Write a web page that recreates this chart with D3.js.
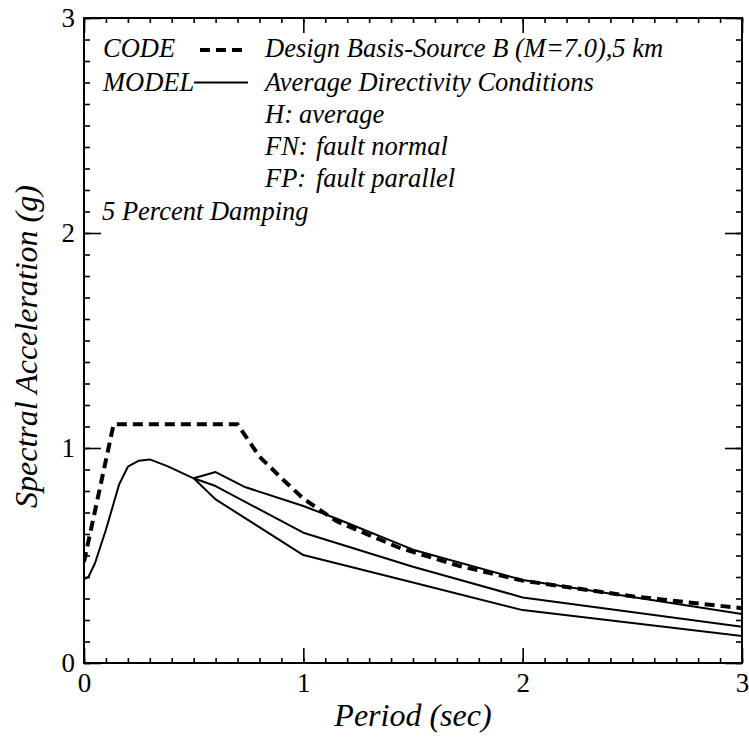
<!DOCTYPE html>
<html><head><meta charset="utf-8">
<script src="https://cdn.jsdelivr.net/npm/d3@7/dist/d3.min.js"></script>
</head>
<body style="margin:0;background:#fff"><svg id="c" width="749" height="749" style="display:block"></svg>
<script>
// ---- data ----
const codePeriod = [0, 0.135, 0.70, 0.80, 0.90, 1.00, 1.15, 1.44, 1.71, 2.00, 2.50, 3.00];
const codeSa     = [0.47, 1.11, 1.11, 0.96, 0.86, 0.765, 0.66, 0.535, 0.452, 0.383, 0.31, 0.255];

const sharedPeriod = [0, 0.02, 0.05, 0.10, 0.16, 0.20, 0.25, 0.30, 0.38, 0.50];
const sharedSa     = [0.39, 0.40, 0.464, 0.62, 0.83, 0.913, 0.941, 0.947, 0.916, 0.859];

const fnPeriod = [0.50, 0.60, 0.73, 1.00, 1.15, 1.50, 2.00, 3.00];
const fnSa     = [0.859, 0.888, 0.82, 0.73, 0.672, 0.527, 0.386, 0.228];

const hPeriod  = [0.50, 0.60, 1.00, 1.50, 2.00, 3.00];
const hSa      = [0.859, 0.823, 0.606, 0.448, 0.305, 0.169];

const fpPeriod = [0.50, 0.60, 1.00, 1.50, 2.00, 3.00];
const fpSa     = [0.859, 0.761, 0.502, 0.374, 0.246, 0.126];

const majorTicks = [0, 1, 2, 3];
const minorTicks = d3.range(0, 30.5).map(d => d / 10);

const legendLeft  = ["CODE", "MODEL"];
const legendRight = ["Design Basis-Source B (M=7.0),5 km", "Average Directivity Conditions"];
const defKeys  = ["H:", "FN:", "FP:"];
const defTexts = ["average", "fault normal", "fault parallel"];
const noteText = "5 Percent Damping";
const xTitle = "Period (sec)";
const yTitle = "Spectral Acceleration (g)";

// ---- layout ----
const FONT = '"Liberation Serif"';
const svg = d3.select("#c");
const L = 84, R = 742, T = 18, B = 663;
const x = d3.scaleLinear().domain([0, 3]).range([L, R]);
const y = d3.scaleLinear().domain([0, 3]).range([B, T]);

const zip = (a, b) => a.map((v, i) => [v, b[i]]);
const line = d3.line().x(d => x(d[0])).y(d => y(d[1]));

svg.append("clipPath").attr("id", "pc").append("rect")
  .attr("x", L).attr("y", T).attr("width", R - L).attr("height", B - T);
const g = svg.append("g").attr("clip-path", "url(#pc)");

// model curves
[ zip(fnPeriod, fnSa), zip(hPeriod, hSa), zip(fpPeriod, fpSa), zip(sharedPeriod, sharedSa) ].forEach(c => {
  g.append("path").attr("d", line(c)).attr("fill", "none")
    .attr("stroke", "#000").attr("stroke-width", 2).attr("stroke-linejoin", "round");
});

// code curve
g.append("path").attr("d", line(zip(codePeriod, codeSa))).attr("fill", "none")
  .attr("stroke", "#000").attr("stroke-width", 4).attr("stroke-dasharray", "10,6");

// axes
function styleAxis(sel) {
  sel.attr("font-family", null);
  sel.select(".domain").remove();
  sel.selectAll("line").attr("stroke", "#000").attr("stroke-width", 1.6);
  sel.selectAll("text").style("font-family", FONT).style("font-size", "27px").attr("fill", "#000");
}
const noLab = () => "";
svg.append("g").attr("transform", `translate(0,${B})`)
  .call(d3.axisBottom(x).tickValues(minorTicks).tickSize(-5).tickFormat(noLab)).call(styleAxis);
svg.append("g").attr("transform", `translate(0,${B})`)
  .call(d3.axisBottom(x).tickValues(majorTicks).tickSize(-15).tickPadding(10).tickFormat(d3.format("d"))).call(styleAxis);
svg.append("g").attr("transform", `translate(0,${T})`)
  .call(d3.axisTop(x).tickValues(minorTicks).tickSize(-5).tickFormat(noLab)).call(styleAxis);
svg.append("g").attr("transform", `translate(0,${T})`)
  .call(d3.axisTop(x).tickValues(majorTicks).tickSize(-15).tickFormat(noLab)).call(styleAxis);
svg.append("g").attr("transform", `translate(${L},0)`)
  .call(d3.axisLeft(y).tickValues(minorTicks).tickSize(-6).tickFormat(noLab)).call(styleAxis);
svg.append("g").attr("transform", `translate(${L},0)`)
  .call(d3.axisLeft(y).tickValues(majorTicks).tickSize(-17).tickPadding(9).tickFormat(d3.format("d"))).call(styleAxis);
svg.append("g").attr("transform", `translate(${R},0)`)
  .call(d3.axisRight(y).tickValues(minorTicks).tickSize(-6).tickFormat(noLab)).call(styleAxis);
svg.append("g").attr("transform", `translate(${R},0)`)
  .call(d3.axisRight(y).tickValues(majorTicks).tickSize(-17).tickFormat(noLab)).call(styleAxis);

// frame
svg.append("rect").attr("x", L).attr("y", T).attr("width", R - L).attr("height", B - T)
  .attr("fill", "none").attr("stroke", "#000").attr("stroke-width", 2);

function txt(parent, xx, yy, s, size) {
  return parent.append("text").attr("x", xx).attr("y", yy).text(s)
    .style("font-family", FONT).style("font-style", "italic").style("font-size", size + "px").attr("fill", "#000");
}

// titles
txt(svg, (L + R) / 2, 726, xTitle, 32).attr("text-anchor", "middle");
svg.append("text").attr("transform", `translate(37,${(T + B) / 2 + 6}) rotate(-90)`)
  .attr("text-anchor", "middle").style("font-family", FONT).style("font-size", "32px")
  .style("font-style", "italic").attr("fill", "#000").text(yTitle);

// legend
const FS = 26.5;
const rowY = [57, 90.5];
txt(svg, 103, rowY[0], legendLeft[0], FS);
svg.append("line").attr("x1", 200).attr("x2", 243).attr("y1", rowY[0] - 7).attr("y2", rowY[0] - 7)
  .attr("stroke", "#000").attr("stroke-width", 4).attr("stroke-dasharray", "10,6");
txt(svg, 265, rowY[0], legendRight[0], FS);
txt(svg, 103, rowY[1], legendLeft[1], FS);
svg.append("line").attr("x1", 194).attr("x2", 248).attr("y1", rowY[1] - 8).attr("y2", rowY[1] - 8)
  .attr("stroke", "#000").attr("stroke-width", 2);
txt(svg, 265, rowY[1], legendRight[1], FS);
const defY = [123, 155, 187];
const defX = [299, 316, 316];
defKeys.forEach((k, i) => {
  txt(svg, 265, defY[i], k, FS);
  txt(svg, defX[i], defY[i], defTexts[i], FS);
});
txt(svg, 102, 220, noteText, FS);
</script></body></html>
